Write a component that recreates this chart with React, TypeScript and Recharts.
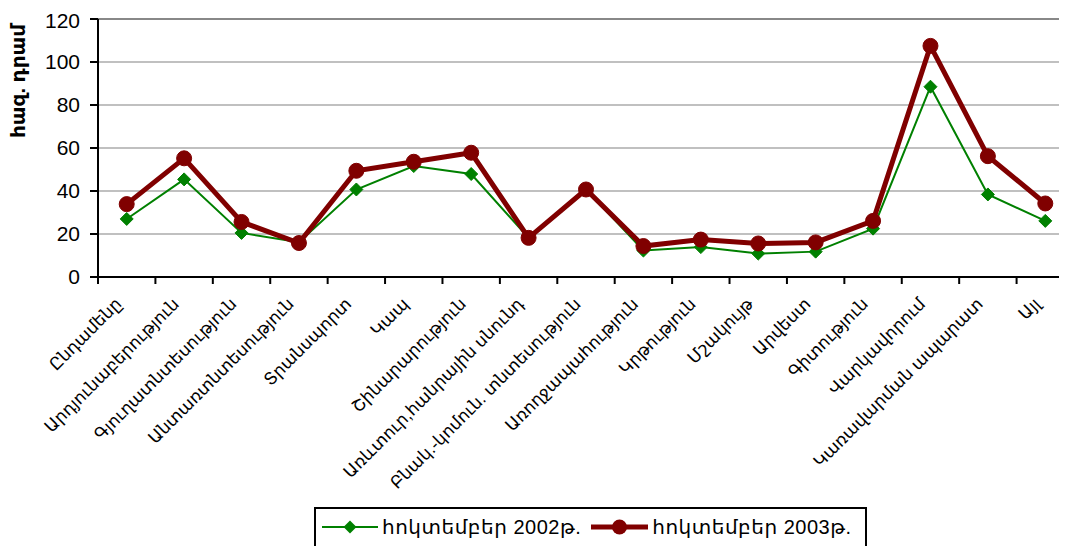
import React from 'react';
import { ComposedChart, Line, XAxis, YAxis, CartesianGrid, Legend, ReferenceLine } from 'recharts';

const categories = [
  'Ընդամենը',
  'Արդյունաբերություն',
  'Գյուղատնտեսություն',
  'Անտառտնտեսություն',
  'Տրանսպորտ',
  'Կապ',
  'Շինարարություն',
  'Առևտուր,հանրային սնունդ',
  'Բնակ.-կոմուն. տնտեսություն',
  'Առողջապահություն',
  'Կրթություն',
  'Մշակույթ',
  'Արվեստ',
  'Գիտություն',
  'Վարկավորում',
  'Կառավարման ապարատ',
  'Այլ',
];

const values2002 = [27.0, 45.4, 20.5, 16.2, 40.7, 51.6, 47.9, 18.2, 40.7, 12.3, 13.9, 10.9, 11.8, 22.5, 88.5, 38.4, 26.1];
const values2003 = [33.9, 55.2, 25.6, 15.8, 49.4, 53.6, 57.8, 18.2, 40.7, 14.4, 17.4, 15.6, 16.1, 26.1, 107.5, 56.2, 34.2];

const yTicks = [0, 20, 40, 60, 80, 100, 120];
const seriesNames = ['հոկտեմբեր 2002թ.', 'հոկտեմբեր 2003թ.'];
const yAxisTitle = 'հազ. դրամ';

const GREEN = '#008000';
const MAROON = '#800000';
const FONT = "Arial, 'Liberation Sans', 'DejaVu Sans', sans-serif";

const data = categories.map((name, i) => ({ name, v2002: values2002[i], v2003: values2003[i] }));

const XTick = (props: any) => {
  const { x, y, payload, width, visibleTicksCount } = props;
  const band = width && visibleTicksCount ? width / visibleTicksCount : 0;
  const half = band / 2;
  return (
    <g transform={`translate(${x},${y})`}>
      <line x1={-half} y1={0} x2={-half} y2={7} stroke="#000" strokeWidth={2} />
      <text
        x={0}
        y={0}
        transform="translate(-4, 28) rotate(-45)"
        textAnchor="end"
        fontSize={17}
        fontFamily={FONT}
        fill="#000"
      >
        {payload.value}
      </text>
    </g>
  );
};

const Diamond = (props: any) => {
  const { cx, cy } = props;
  if (cx == null || cy == null) return null;
  const r = 6.5;
  return (
    <polygon
      points={`${cx},${cy - r} ${cx + r},${cy} ${cx},${cy + r} ${cx - r},${cy}`}
      fill={GREEN}
      stroke={GREEN}
      strokeWidth={1}
    />
  );
};

const Circle = (props: any) => {
  const { cx, cy } = props;
  if (cx == null || cy == null) return null;
  return <circle cx={cx} cy={cy} r={7.5} fill={MAROON} stroke={MAROON} strokeWidth={1} />;
};

const YTitle = (props: any) => {
  const vb = props.viewBox || { x: 0, y: 0 };
  return (
    <text
      transform={`translate(${vb.x + 10}, ${vb.y + 62}) rotate(-90)`}
      textAnchor="middle"
      dominantBaseline="central"
      fontSize={20}
      fontWeight="bold"
      fontFamily={FONT}
      fill="#000"
    >
      {yAxisTitle}
    </text>
  );
};

const LegendBox = () => (
  <div
    style={{
      display: 'flex',
      alignItems: 'center',
      border: '2px solid #000',
      height: 46,
      boxSizing: 'border-box',
      padding: '0 0 6px 6px',
      fontFamily: FONT,
      fontSize: 20,
      letterSpacing: 0.5,
      color: '#000',
      background: '#fff',
    }}
  >
    <svg width={56} height={20} style={{ marginRight: 4 }}>
      <line x1={0} y1={10} x2={56} y2={10} stroke={GREEN} strokeWidth={2} />
      <polygon points="28,3.5 34.5,10 28,16.5 21.5,10" fill={GREEN} />
    </svg>
    <span style={{ marginRight: 10, whiteSpace: 'nowrap' }}>{seriesNames[0]}</span>
    <svg width={57} height={20} style={{ marginRight: 4 }}>
      <line x1={0} y1={10} x2={57} y2={10} stroke={MAROON} strokeWidth={5} />
      <circle cx={28.5} cy={10} r={7.5} fill={MAROON} />
    </svg>
    <span style={{ whiteSpace: 'nowrap' }}>{seriesNames[1]}</span>
  </div>
);

export default function App() {
  return (
    <div style={{ width: 1059, height: 538, overflow: 'hidden', position: 'relative' }}>
      <ComposedChart
        width={1066}
        height={538}
        data={data}
        margin={{ top: 11, right: 0, bottom: 0, left: 0 }}
      >
        <CartesianGrid horizontal vertical={false} stroke="#c0c0c0" strokeWidth={2} />
        <ReferenceLine y={120} stroke="#888888" strokeWidth={2} />
        <XAxis
          dataKey="name"
          scale="band"
          interval={0}
          height={269}
          tickLine={false}
          tickSize={0}
          tickMargin={0}
          axisLine={{ stroke: '#000', strokeWidth: 2 }}
          tick={<XTick />}
        />
        <YAxis
          domain={[0, 120]}
          ticks={yTicks}
          width={90}
          tickSize={8}
          tickMargin={10}
          tickLine={{ stroke: '#000', strokeWidth: 2 }}
          axisLine={{ stroke: '#000', strokeWidth: 2 }}
          tick={{ fill: '#000', fontSize: 21, fontFamily: FONT }}
          label={{ content: <YTitle /> }}
        />
        <Legend
          verticalAlign="middle"
          layout="horizontal"
          content={<LegendBox />}
          wrapperStyle={{ position: 'absolute', left: 306, top: 499, width: 553, height: 46 }}
        />
        <Line
          type="linear"
          dataKey="v2002"
          name={seriesNames[0]}
          stroke={GREEN}
          strokeWidth={2}
          dot={<Diamond />}
          activeDot={false}
          isAnimationActive={false}
        />
        <Line
          type="linear"
          dataKey="v2003"
          name={seriesNames[1]}
          stroke={MAROON}
          strokeWidth={5}
          dot={<Circle />}
          activeDot={false}
          isAnimationActive={false}
        />
      </ComposedChart>
    </div>
  );
}
